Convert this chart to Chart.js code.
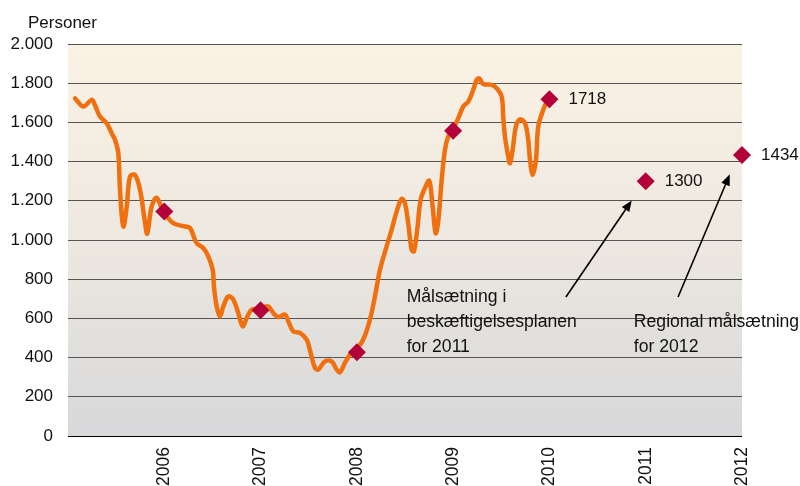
<!DOCTYPE html>
<html><head><meta charset="utf-8">
<script src="https://cdn.jsdelivr.net/npm/chart.js@4/dist/chart.umd.min.js"></script>
<style>html,body{margin:0;padding:0;background:#fff}</style>
</head><body>
<canvas id="c" width="800" height="486"></canvas>
<script>
const lineYears = [2005.073,2005.159,2005.246,2005.280,2005.332,2005.402,2005.454,2005.488,2005.522,2005.540,2005.574,2005.610,2005.644,2005.696,2005.748,2005.800,2005.823,2005.869,2005.921,2005.990,
2006.093,2006.215,2006.267,2006.336,2006.405,2006.457,2006.503,2006.516,2006.544,2006.578,2006.613,2006.665,2006.717,2006.768,2006.814,2006.856,2006.908,2006.987,
2007.080,2007.132,2007.184,2007.253,2007.288,2007.340,2007.409,2007.479,2007.520,2007.565,2007.599,2007.669,2007.738,2007.790,2007.825,2007.876,2007.928,2007.980,
2008.066,2008.136,2008.188,2008.240,2008.309,2008.361,2008.413,2008.465,2008.499,2008.534,2008.569,2008.593,2008.627,2008.662,2008.707,2008.752,2008.787,2008.818,2008.845,2008.881,2008.915,2008.949,2008.995,
2009.053,2009.105,2009.157,2009.209,2009.244,2009.271,2009.313,2009.400,2009.452,2009.504,2009.520,2009.538,2009.572,2009.590,2009.618,2009.652,2009.694,2009.746,2009.780,2009.798,2009.826,2009.860,2009.884,2009.936,2009.988];
const lineValues = [1723,1681,1715,1689,1630,1596,1545,1511,1445,1256,1069,1171,1324,1332,1256,1088,1032,1171,1215,1145,
1086,1069,1062,984,959,916,848,763,661,610,661,712,696,628,560,602,645,648,
661,628,607,619,585,534,526,492,424,348,339,381,381,339,325,373,415,432,
492,594,712,848,967,1052,1145,1210,1188,1083,950,942,1052,1205,1265,1302,1171,1035,1093,1307,1460,1528,1562,
1621,1681,1706,1766,1817,1825,1796,1791,1774,1732,1630,1528,1426,1392,1460,1579,1616,1596,1511,1409,1332,1409,1579,1664,1723];

const markerYears = [2006, 2007, 2008, 2009, 2010, 2011, 2012];
const markerValues = [1145, 641, 427, 1557, 1718, 1300, 1434];
const markerLabels = ['', '', '', '', '1718', '1300', '1434'];

const xTickYears = [2006, 2007, 2008, 2009, 2010, 2011, 2012];
const yTickValues = [0, 200, 400, 600, 800, 1000, 1200, 1400, 1600, 1800, 2000];
const yTickLabels = ['0', '200', '400', '600', '800', '1.000', '1.200', '1.400', '1.600', '1.800', '2.000'];
const yAxisTitle = 'Personer';

const noteTexts = [
  ['Målsætning i', 'beskæftigelsesplanen', 'for 2011'],
  ['Regional målsætning', 'for 2012']
];
const noteTextAt = [[2008.517, 711], [2010.877, 583]];
const noteArrowFrom = [[2010.171, 709], [2011.336, 709]];
const noteArrowTo = [[2010.855, 1202], [2011.873, 1335]];

const FONT = "'Liberation Sans', Arial, sans-serif";
const FS = 17;

const bgPlugin = {
  id: 'bg',
  beforeDraw(chart) {
    const {ctx, chartArea: a} = chart;
    const g = ctx.createLinearGradient(0, a.top, 0, a.bottom);
    g.addColorStop(0, '#FBF2E4');
    g.addColorStop(0.5, '#EDE8E0');
    g.addColorStop(1, '#D7D8DA');
    ctx.save();
    ctx.fillStyle = g;
    ctx.fillRect(a.left, a.top, a.right - a.left, a.bottom - a.top);
    ctx.restore();
  }
};

const textPlugin = {
  id: 'texts',
  afterDraw(chart) {
    const {ctx, chartArea: a, scales: {x, y}} = chart;
    ctx.save();
    ctx.font = FS + 'px ' + FONT;
    ctx.fillStyle = '#111';
    ctx.textBaseline = 'middle';
    ctx.textAlign = 'left';
    ctx.fillText(yAxisTitle, a.left - 40, a.top - 21);
    markerYears.forEach((yr, i) => {
      if (!markerLabels[i]) return;
      ctx.fillText(markerLabels[i], x.getPixelForValue(yr) + 19, y.getPixelForValue(markerValues[i]));
    });
    ctx.font = '17.6px ' + FONT;
    noteTexts.forEach((lines, i) => {
      const tx = x.getPixelForValue(noteTextAt[i][0]);
      const ty = y.getPixelForValue(noteTextAt[i][1]);
      ctx.fillStyle = '#111';
      lines.forEach((ln, j) => ctx.fillText(ln, tx, ty + j * 25));
      const x0 = x.getPixelForValue(noteArrowFrom[i][0]), y0 = y.getPixelForValue(noteArrowFrom[i][1]);
      const x1 = x.getPixelForValue(noteArrowTo[i][0]), y1 = y.getPixelForValue(noteArrowTo[i][1]);
      const ang = Math.atan2(y1 - y0, x1 - x0);
      const hl = 11, hw = 4.5;
      ctx.strokeStyle = '#000';
      ctx.fillStyle = '#000';
      ctx.lineWidth = 1.6;
      ctx.beginPath();
      ctx.moveTo(x0, y0);
      ctx.lineTo(x1 - Math.cos(ang) * hl * 0.8, y1 - Math.sin(ang) * hl * 0.8);
      ctx.stroke();
      ctx.beginPath();
      ctx.moveTo(x1, y1);
      ctx.lineTo(x1 - Math.cos(ang) * hl - Math.sin(ang) * hw, y1 - Math.sin(ang) * hl + Math.cos(ang) * hw);
      ctx.lineTo(x1 - Math.cos(ang) * hl + Math.sin(ang) * hw, y1 - Math.sin(ang) * hl - Math.cos(ang) * hw);
      ctx.closePath();
      ctx.fill();
    });
    ctx.restore();
  }
};

new Chart(document.getElementById('c'), {
  type: 'line',
  data: {
    datasets: [
      {
        label: 'Mål',
        data: markerYears.map((yr, i) => ({x: yr, y: markerValues[i]})),
        showLine: false,
        pointStyle: 'rectRot',
        pointRadius: 9,
        pointBackgroundColor: '#B4003A',
        pointBorderColor: '#B4003A',
        pointBorderWidth: 0,
        clip: false,
        order: 0
      },
      {
        label: 'Personer',
        data: lineYears.map((yr, i) => ({x: yr, y: lineValues[i]})),
        borderColor: '#F0700F',
        borderWidth: 4.5,
        pointRadius: 0,
        tension: 0.35,
        borderCapStyle: 'round',
        borderJoinStyle: 'round',
        fill: false,
        order: 1
      }
    ]
  },
  options: {
    responsive: false,
    devicePixelRatio: 1,
    animation: false,
    layout: {padding: {left: 9, right: 58, top: 44, bottom: 0}},
    plugins: {legend: {display: false}, tooltip: {enabled: false}, title: {display: false}},
    scales: {
      x: {
        type: 'linear',
        min: 2005,
        max: 2012,
        afterBuildTicks(axis) { axis.ticks = xTickYears.map(v => ({value: v})); },
        afterFit(axis) { axis.height = 50; },
        grid: {display: false, drawTicks: false},
        border: {display: false},
        ticks: {
          minRotation: 90, maxRotation: 90, padding: 11, autoSkip: false,
          color: '#111', font: {family: FONT, size: 17.5},
          callback: v => String(v)
        }
      },
      y: {
        min: 0,
        max: 2000,
        afterBuildTicks(axis) { axis.ticks = yTickValues.map(v => ({value: v})); },
        afterFit(axis) { axis.width = 59; },
        grid: {
          drawTicks: false,
          color: c => (c.tick && c.tick.value === 0) ? '#000' : '#555',
          lineWidth: 1
        },
        border: {display: false},
        ticks: {
          padding: 15, color: '#111', font: {family: FONT, size: FS},
          callback: v => yTickLabels[yTickValues.indexOf(v)]
        }
      }
    }
  },
  plugins: [bgPlugin, textPlugin]
});
</script>
</body></html>
